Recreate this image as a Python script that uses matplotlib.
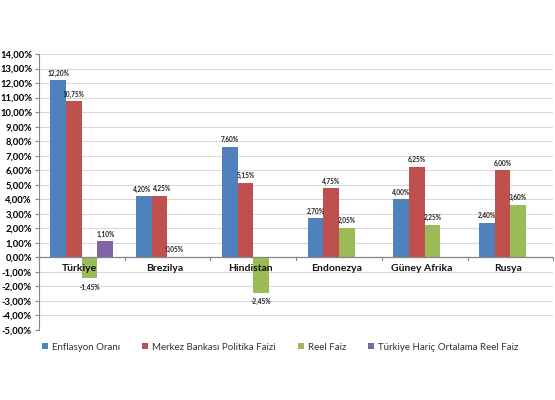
import matplotlib
matplotlib.use("Agg")
import matplotlib.pyplot as plt
import numpy as np
from matplotlib.ticker import FuncFormatter, FixedLocator

plt.rcParams['font.family'] = ['Lato', 'DejaVu Sans']

categories = ["Türkiye", "Brezilya", "Hindistan", "Endonezya", "Güney Afrika", "Rusya"]
series_names = ["Enflasyon Oranı", "Merkez Bankası Politika Faizi", "Reel Faiz",
                "Türkiye Hariç Ortalama Reel Faiz"]
enflasyon = [12.20, 4.20, 7.60, 2.70, 4.00, 2.40]
politika = [10.75, 4.25, 5.15, 4.75, 6.25, 6.00]
reel = [-1.45, 0.05, -2.45, 2.05, 2.25, 3.60]
ort_reel = [1.10, None, None, None, None, None]
colors = ["#4F81BD", "#C0504D", "#9BBB59", "#8064A2"]

fig = plt.figure(figsize=(5.55, 4.0), dpi=100)
ax = fig.add_axes([0.070, 0.175, 0.927, 0.69])

x = np.arange(len(categories))
width = 0.183
offsets = [-1.5 * width, -0.5 * width, 0.5 * width, 1.5 * width]
all_series = [enflasyon, politika, reel, ort_reel]

# push apart labels of adjacent blue/red bars with nearly equal heights
close = [abs(a - b) < 0.6 for a, b in zip(enflasyon, politika)]
label_shift = [[-0.025 if c else 0 for c in close],
               [0.025 if c else 0 for c in close],
               [0] * len(categories), [0] * len(categories)]

handles = []
for s, vals, col, off, name in zip(range(4), all_series, colors, offsets, series_names):
    idx = [i for i, v in enumerate(vals) if v is not None]
    xs = [x[i] + off for i in idx]
    vs = [vals[i] for i in idx]
    b = ax.bar(xs, vs, width=width, color=col, label=name, zorder=3)
    handles.append(b)
    for i, xi, v in zip(idx, xs, vs):
        lab = ("%.2f%%" % v).replace(".", ",")
        lx = xi + label_shift[s][i]
        if v >= 0:
            ax.text(lx, v + 0.25, lab, ha="center", va="bottom", fontsize=4.7,
                    fontweight="bold", color="#222222", zorder=5)
        else:
            ax.text(lx, v - 0.35, lab, ha="center", va="top", fontsize=4.7,
                    fontweight="bold", color="#222222", zorder=5)

ax.set_xlim(-0.5, len(categories) - 0.5)
ax.set_ylim(-5, 14)
ax.yaxis.set_major_locator(FixedLocator(np.arange(-5, 15, 1)))
ax.yaxis.set_major_formatter(FuncFormatter(lambda v, p: ("%.2f%%" % v).replace(".", ",")))
ax.tick_params(axis="y", labelsize=6.8, length=3, color="#868686", pad=2)
for t in ax.get_yticklabels():
    t.set_fontweight("bold")
ax.grid(axis="y", color="#D9D9D9", linewidth=0.8, zorder=0)

ax.set_xticks([])
for sp in ["top", "right", "bottom"]:
    ax.spines[sp].set_visible(False)
ax.spines["left"].set_color("#868686")
ax.spines["left"].set_linewidth(0.8)

# zero axis line and category boundary ticks
ax.axhline(0, color="#868686", linewidth=0.9, zorder=4)
for b in np.arange(-0.5, len(categories) + 0.5, 1):
    ax.plot([b, b], [0, -0.15], color="#868686", linewidth=0.8, zorder=4, clip_on=False)

# category labels just below zero line
for xi, c in zip(x, categories):
    ax.text(xi - 0.03, -0.45, c, ha="center", va="top", fontsize=7.5, fontweight="bold",
            color="#111111", zorder=6)

leg = fig.legend(handles=handles, labels=series_names, loc="center",
                 bbox_to_anchor=(0.505, 0.132), ncol=4, frameon=False, fontsize=7,
                 handlelength=0.6, handleheight=0.6, handletextpad=0.4, columnspacing=2.3,
                 labelcolor="#333333")

fig.savefig("out.png", dpi=100, facecolor="white")
